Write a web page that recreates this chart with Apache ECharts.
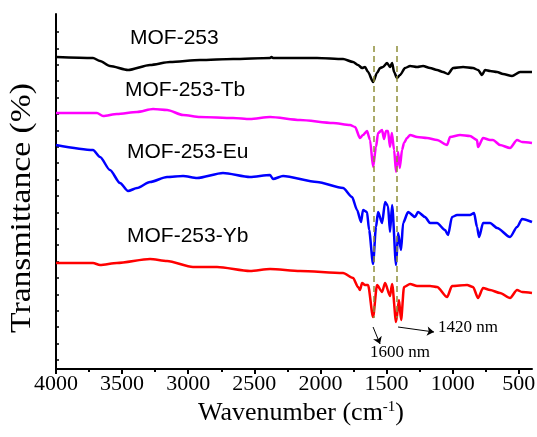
<!DOCTYPE html>
<html>
<head>
<meta charset="utf-8">
<script src="https://cdn.jsdelivr.net/npm/echarts@6/dist/echarts.min.js"></script>
<style>
  html, body { margin: 0; padding: 0; background: #fff; }
  #chart { width: 537px; height: 437px; }
</style>
</head>
<body>
<div id="chart"></div>
<script>
// FTIR spectra, [wavenumber (cm-1), transmittance (a.u., curves offset)]
const mof253 = [[4000,312],[3720,311],[3667,308],[3592,303],[3455,299],[3289,304],[3138,307],[2911,309],[2661,310],[2381,311],[2370,312],[2359,311],[2026,311],[1829,310],[1753,307],[1716,304],[1685,301],[1663,302],[1640,297],[1602,287],[1572,296],[1549,301],[1527,302],[1496,306],[1474,302],[1458,306],[1443,297],[1421,291],[1398,294],[1360,301],[1322,303],[1269,302],[1224,303],[1171,301],[1118,299],[1073,297],[1035,295],[997,301],[921,302],[846,301],[808,299],[778,294],[755,299],[717,298],[664,297],[619,295],[551,293],[490,297],[400,297]]

const mof253Tb = [[4000,256],[3690,256],[3644,253],[3539,255],[3387,257],[3266,260],[3160,259],[3039,254],[2911,252],[2661,251],[2533,250],[2381,252],[2154,249],[1905,246],[1776,244],[1738,242],[1701,231],[1678,234],[1648,238],[1625,229],[1602,202],[1580,222],[1564,236],[1534,239],[1519,230],[1504,238],[1489,238],[1474,222],[1460,236],[1443,219],[1428,197],[1413,217],[1400,201],[1383,219],[1368,226],[1345,231],[1322,234],[1269,232],[1194,231],[1118,229],[1042,224],[1020,232],[944,234],[869,233],[816,229],[808,222],[770,231],[717,229],[695,229],[642,224],[566,221],[513,229],[475,227],[400,226]]

const mof253Eu = [[4000,224],[3720,219],[3667,212],[3592,199],[3516,186],[3455,178],[3387,181],[3289,187],[3160,192],[3039,193],[2933,191],[2737,196],[2533,192],[2381,194],[2359,190],[2283,193],[2026,187],[1829,181],[1761,172],[1723,159],[1693,147],[1678,159],[1648,157],[1632,139],[1602,105],[1580,142],[1564,157],[1534,146],[1511,167],[1489,163],[1474,137],[1458,164],[1428,104],[1413,136],[1390,119],[1375,146],[1337,157],[1285,152],[1262,157],[1209,152],[1171,146],[1118,146],[1058,139],[1035,134],[1005,152],[967,154],[869,154],[838,156],[816,142],[800,132],[770,146],[717,146],[664,141],[566,132],[513,142],[475,150],[400,147]]

const mof253Yb = [[4000,106],[3720,106],[3667,104],[3539,106],[3289,110],[3160,108],[2964,102],[2782,102],[2533,98],[2381,100],[2154,98],[1829,96],[1753,91],[1716,82],[1701,79],[1685,86],[1663,84],[1640,84],[1602,52],[1572,84],[1534,77],[1511,86],[1474,73],[1458,85],[1428,47],[1406,69],[1390,49],[1368,82],[1322,85],[1269,83],[1171,83],[1118,82],[1042,72],[1005,83],[891,84],[846,82],[808,71],[770,81],[717,79],[642,76],[566,71],[513,79],[475,77],[400,76]]

const seriesNames = ['MOF-253', 'MOF-253-Tb', 'MOF-253-Eu', 'MOF-253-Yb']
const seriesColors = ['#000000', '#ff00ff', '#0000ff', '#ff0000']
const seriesData = [mof253, mof253Tb, mof253Eu, mof253Yb]

const xMajorTicks = [500, 1000, 1500, 2000, 2500, 3000, 3500, 4000]
const xMinorTicks = [750, 1250, 1750, 2250, 2750, 3250, 3750]
const peakLines = [1600, 1420]
const peakLabels = ['1600 nm', '1420 nm']

const yTicks = Array.from({ length: 21 }, (_, i) => 9 + i * 16.4)

const chart = echarts.init(document.getElementById('chart'), null, { renderer: 'canvas' })

const serif = 'Liberation Serif, Times New Roman, serif'
const sans = 'Liberation Sans, Arial, sans-serif'

const lineSeries = seriesData.map((d, i) => ({
  type: 'line',
  name: seriesNames[i],
  data: d,
  showSymbol: false,
  smooth: 0.25,
  smoothMonotone: 'x',
  lineStyle: { color: seriesColors[i], width: 2.5 },
  z: 3
}))

chart.setOption({
  animation: false,
  grid: { left: 56, right: 5, top: 14, bottom: 68, containLabel: false, outerBoundsMode: 'none' },
  xAxis: [{
    type: 'value',
    inverse: true,
    min: 400,
    max: 4000,
    axisLine: { lineStyle: { color: '#000', width: 2 } },
    axisTick: { customValues: xMajorTicks, length: 5, lineStyle: { color: '#000', width: 2 } },
    axisLabel: { customValues: xMajorTicks, formatter: v => String(v), color: '#000', fontFamily: serif, fontSize: 22, margin: 4 },
    splitLine: { show: false },
    name: 'Wavenumber (cm{sup|-1})',
    nameLocation: 'middle',
    nameGap: 27,
    nameTextStyle: {
      color: '#000', fontFamily: serif, fontSize: 26, padding: [0, 0, 0, 14],
      rich: { sup: { fontFamily: serif, fontSize: 15, verticalAlign: 'top', padding: [0, 0, 12, 0], color: '#000' } }
    }
  }, {
    type: 'value',
    inverse: true,
    min: 400,
    max: 4000,
    position: 'bottom',
    axisLine: { show: false },
    axisTick: { customValues: xMinorTicks, length: 3, lineStyle: { color: '#000', width: 2 } },
    axisLabel: { show: false },
    splitLine: { show: false }
  }],
  yAxis: {
    type: 'value',
    min: 0,
    max: 355,
    axisLine: { show: true, lineStyle: { color: '#000', width: 2 } },
    axisTick: { show: true, inside: true, customValues: yTicks, length: 3, lineStyle: { color: '#000', width: 1.5 } },
    axisLabel: { show: false },
    splitLine: { show: false }
  },
  series: [
    {
      type: 'line',
      data: [],
      markLine: {
        silent: true,
        symbol: 'none',
        label: { show: false },
        lineStyle: { color: '#8f8f3a', width: 1.5, type: [6, 4] },
        data: peakLines.map(w => [{ coord: [w, 323] }, { coord: [w, 51] }])
      },
      z: 1
    },
    ...lineSeries,
    {
      type: 'lines',
      coordinateSystem: 'cartesian2d',
      symbol: ['none', 'arrow'],
      symbolSize: 7,
      lineStyle: { color: '#000', width: 1, opacity: 1 },
      data: [
        { coords: [[1602, 42], [1549, 25]] },
        { coords: [[1413, 42], [1141, 37]] }
      ],
      z: 5
    }
  ],
  graphic: [
    { type: 'text', x: 130, y: 38, style: { text: seriesNames[0], font: '21px ' + sans, fill: '#000', textVerticalAlign: 'middle' } },
    { type: 'text', x: 125, y: 90, style: { text: seriesNames[1], font: '21px ' + sans, fill: '#000', textVerticalAlign: 'middle' } },
    { type: 'text', x: 127, y: 152, style: { text: seriesNames[2], font: '21px ' + sans, fill: '#000', textVerticalAlign: 'middle' } },
    { type: 'text', x: 127, y: 236, style: { text: seriesNames[3], font: '21px ' + sans, fill: '#000', textVerticalAlign: 'middle' } },
    { type: 'text', x: 370, y: 353, style: { text: peakLabels[0], font: '17px ' + serif, fill: '#000', textVerticalAlign: 'middle' } },
    { type: 'text', x: 438, y: 328, style: { text: peakLabels[1], font: '17px ' + serif, fill: '#000', textVerticalAlign: 'middle' } },
    {
      type: 'text', x: 22, y: 208, rotation: Math.PI / 2, scaleX: 1.12,
      style: { text: 'Transmittance (%)', font: '30px ' + serif, fill: '#000', textAlign: 'center', textVerticalAlign: 'middle' }
    }
  ]
})
</script>
</body>
</html>
